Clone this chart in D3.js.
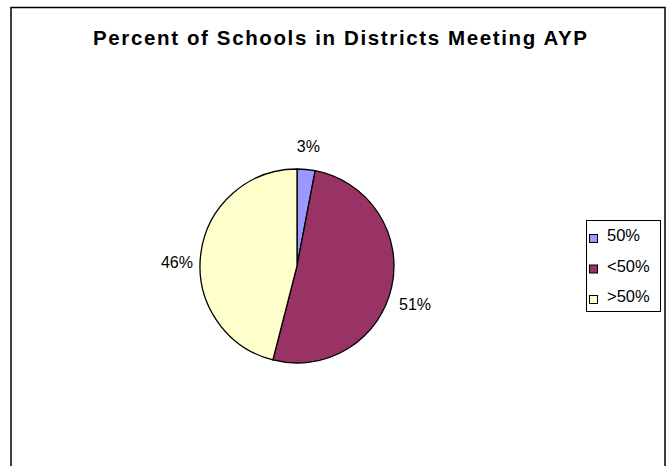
<!DOCTYPE html>
<html>
<head>
  <meta charset="UTF-8">
  <style>
    body { margin: 0; background: #fff; }
    text { font-family: "Liberation Sans", Arial, sans-serif; }
  </style>
</head>
<body>
<svg></svg>
<script src="https://d3js.org/d3.v7.min.js"></script>
<script>

let width = 667, height = 466;

// chart data
let categories = ["50%", "<50%", ">50%"];
let values = [3, 51, 46];
let colors = ["#9999FF", "#993366", "#FFFFCC"];

let svg = d3.select("svg")
    .attr("width", width)
    .attr("height", height);

// chart area border
svg.append("rect")
    .attr("x", 11)
    .attr("y", 7.5)
    .attr("width", 654)
    .attr("height", 470)
    .attr("fill", "#fff")
    .attr("stroke", "#000")
    .attr("stroke-width", 1.5);

svg.append("text")
    .attr("x", 93)
    .attr("y", 45)
    .attr("textLength", 494)
    .attr("lengthAdjust", "spacing")
    .style("font-size", "20.5px")
    .style("font-weight", "bold")
    .text("Percent of Schools in Districts Meeting AYP");

let cx = 297, cy = 266, r = 97;

let pie = d3.pie().sort(null).value(d => d);
let arcs = pie(values);
let arc = d3.arc().innerRadius(0).outerRadius(r);
let labelArc = d3.arc().innerRadius(r + 24).outerRadius(r + 24);

let g = svg.append("g").attr("transform", `translate(${cx},${cy})`);

g.selectAll("path")
    .data(arcs)
    .enter()
    .append("path")
    .attr("d", arc)
    .attr("fill", (d, i) => colors[i])
    .attr("stroke", "#000")
    .attr("stroke-width", 1.3);

// labels sit a bit lower on the sides, like excel does
g.selectAll("text")
    .data(arcs)
    .enter()
    .append("text")
    .attr("transform", d => {
        let c = labelArc.centroid(d);
        let mid = (d.startAngle + d.endAngle) / 2;
        return `translate(${c[0]},${c[1] + 12 * Math.abs(Math.sin(mid))})`;
    })
    .attr("text-anchor", "middle")
    .attr("dy", "0.35em")
    .style("font-size", "16px")
    .text(d => Math.round(d.data) + "%");

// legend
let legend = svg.append("g");
legend.append("rect")
    .attr("x", 586.5)
    .attr("y", 220.5)
    .attr("width", 74)
    .attr("height", 91)
    .attr("fill", "#fff")
    .attr("stroke", "#000");

let y = d3.scalePoint().domain(categories).range([241, 302]);

let item = legend.selectAll("g.item")
    .data(categories)
    .enter()
    .append("g")
    .attr("class", "item");

item.append("rect")
    .attr("x", 589.5)
    .attr("y", d => y(d) - 6.5)
    .attr("width", 8)
    .attr("height", 8)
    .attr("fill", (d, i) => colors[i])
    .attr("stroke", "#000");

item.append("text")
    .attr("x", 607)
    .attr("y", d => y(d))
    .style("font-size", "16.5px")
    .text(d => d);

</script>
</body>
</html>
